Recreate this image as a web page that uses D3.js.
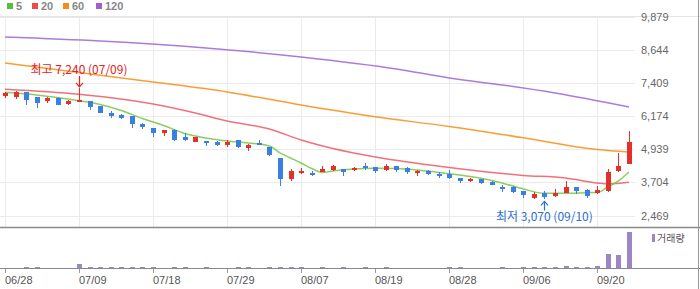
<!DOCTYPE html>
<html>
<head>
<meta charset="utf-8">
<script src="https://cdnjs.cloudflare.com/ajax/libs/d3/7.8.5/d3.min.js"></script>
<style>
  body { margin: 0; background: #fff; }
  svg { display: block; font-family: "Liberation Sans", Arial, sans-serif; }
</style>
</head>
<body>
<div id="chart"></div>
<script>
// trading days, 2024-06-28 .. 2024-09-25
var dates = ['06/28','07/01','07/02','07/03','07/04','07/05','07/08','07/09','07/10','07/11',
  '07/12','07/15','07/16','07/17','07/18','07/19','07/22','07/23','07/24','07/25',
  '07/26','07/29','07/30','07/31','08/01','08/02','08/05','08/06','08/07','08/08',
  '08/09','08/12','08/13','08/14','08/16','08/19','08/20','08/21','08/22','08/23',
  '08/26','08/27','08/28','08/29','08/30','09/02','09/03','09/04','09/05','09/06',
  '09/09','09/10','09/11','09/12','09/13','09/19','09/20','09/23','09/24','09/25'];

var opens = [6951,6914,7090,6902,6727,6865,6652,6727,6764,6577,
  6304,6229,6181,5881,5743,5567,5680,5418,5231,5257,
  5220,5096,5294,4995,5182,5032,4621,3836,4060,4071,
  4086,4172,4210,4172,4322,4273,4172,4322,4247,4060,
  4146,4023,4023,3862,3761,3836,3712,3537,3537,3387,
  3136,3301,3200,3323,3537,3413,3286,3413,4109,4408];
var highs = [7078,7138,7090,6910,6902,6902,6790,7240,6764,6577,
  6379,6267,6200,5930,5743,5680,5690,5545,5418,5257,
  5246,5294,5294,5156,5294,5032,4621,4198,4247,4146,
  4322,4371,4210,4285,4434,4273,4397,4322,4296,4160,
  4184,4109,4172,3862,3873,3836,3761,3611,3574,3387,
  3361,3387,3462,3761,3537,3462,3563,4210,4797,5631];
var lows = [6854,6839,6615,6502,6678,6615,6603,6727,6428,6293,
  6128,6091,5754,5706,5418,5455,5246,5268,5231,5070,
  5081,5032,4995,4883,5110,4696,3585,3761,4012,3959,
  4086,4146,3959,4146,4184,4071,4146,4109,4023,3959,
  3985,3873,3836,3697,3724,3649,3611,3361,3324,3114,
  3090,3070,3163,3323,3263,3114,3286,3361,4109,4408];
var closes = [7052,7101,6802,6689,6854,6615,6764,6790,6540,6330,
  6203,6128,5867,5780,5567,5668,5320,5320,5407,5182,
  5107,5220,5032,5119,5119,4745,3847,4135,4135,3997,
  4198,4322,4109,4236,4236,4135,4322,4184,4109,4146,
  4034,3997,3873,3735,3836,3686,3611,3488,3361,3226,
  3275,3136,3301,3548,3387,3207,3413,4109,4311,5231];
var volumes = [30,35,90,95,30,35,40,430,100,90,
  95,90,100,95,90,40,85,90,40,85,
  35,45,90,85,40,90,110,95,100,40,
  85,40,80,30,90,40,85,35,30,30,
  40,35,90,85,40,30,40,80,40,90,
  100,110,100,200,110,100,190,1430,1270,3600]; // thousand shares

// moving averages: [date, value]
var ma5 = [['06/28',7078],['07/03',6977],['07/09',6760],['07/11',6622],['07/15',6398],
  ['07/17',6098],['07/19',5837],['07/23',5537],['07/25',5369],['07/29',5257],
  ['07/31',5182],['08/02',5070],['08/05',4808],['08/06',4621],['08/07',4434],
  ['08/08',4228],['08/09',4079],['08/12',4135],['08/14',4210],['08/19',4236],
  ['08/21',4228],['08/23',4172],['08/27',4079],['08/29',3985],['09/02',3862],
  ['09/04',3686],['09/06',3462],['09/10',3301],['09/12',3301],['09/19',3323],
  ['09/20',3331],['09/23',3536],['09/24',3761],['09/25',4097]];
var ma20 = [['06/28',7190],['07/09',7003],['07/18',6641],['07/24',6304],['07/29',6005],
  ['08/02',5706],['08/07',5294],['08/12',4976],['08/19',4659],['08/28',4266],
  ['09/06',3967],['09/12',3873],['09/20',3686],['09/23',3649],['09/25',3712]];
var ma60 = [['06/28',8174],['07/09',7819],['07/18',7463],['07/29',7090],['08/07',6603],
  ['08/19',6162],['08/28',5799],['09/06',5377],['09/20',4939],['09/25',4845]];
var ma120 = [['06/28',9146],['07/11',8997],['07/25',8736],['08/07',8398],['08/21',7950],
  ['08/28',7613],['09/04',7351],['09/11',7052],['09/25',6529]];

var yTicks = [2469, 3704, 4939, 6174, 7409, 8644, 9879];
var xTicks = ['06/28','07/09','07/18','07/29','08/07','08/19','08/28','09/06','09/20'];

var maLegend = ['5', '20', '60', '120'];
var maColors = ['#7dc94f', '#f0626a', '#f7941f', '#a56cd6'];
var legendColors = ['#5cbd3c', '#ef4a4a', '#f68b1f', '#a061cf'];

(function(d3){
  var width = 700, height = 289;
  var up = '#e3302a', down = '#3a7fe2';

  var svg = d3.select('#chart').append('svg')
    .attr('width', width)
    .attr('height', height);

  var x = d3.scalePoint().domain(dates).range([5, 629]);
  var y = d3.scaleLinear().domain([2469, 9879]).range([215.5, 17.4]);
  var yv = d3.scaleLinear().domain([0, 4000]).range([268, 228]);
  var px = function(d){ return Math.round(x(d)); };

  // frame + grid
  svg.append('line')
    .attr('x1', 0).attr('x2', width).attr('y1', 16.5).attr('y2', 16.5)
    .attr('stroke', '#e4e4e4');

  svg.append('g').selectAll('line').data(yTicks).enter().append('line')
    .attr('x1', 0).attr('x2', 635)
    .attr('y1', function(d){ return Math.round(y(d)) + 0.5; })
    .attr('y2', function(d){ return Math.round(y(d)) + 0.5; })
    .attr('stroke', '#ebebeb');

  svg.append('g').selectAll('line').data(xTicks).enter().append('line')
    .attr('x1', function(d){ return px(d) + 0.5; })
    .attr('x2', function(d){ return px(d) + 0.5; })
    .attr('y1', 17).attr('y2', 227)
    .attr('stroke', '#ebebeb');

  svg.append('g').selectAll('text').data(yTicks).enter().append('text')
    .attr('x', 641)
    .attr('y', function(d){ return y(d) + 4; })
    .attr('font-size', 11)
    .attr('fill', '#666')
    .text(d3.format(','));

  // moving averages
  var line = d3.line()
    .x(function(d){ return x(d[0]); })
    .y(function(d){ return y(d[1]); })
    .curve(d3.curveMonotoneX);

  [ma120, ma60, ma20, ma5].forEach(function(ma, i){
    svg.append('path')
      .datum(ma)
      .attr('d', line)
      .attr('fill', 'none')
      .attr('stroke', maColors[3 - i])
      .attr('stroke-width', 1.5)
      .attr('stroke-opacity', 0.9);
  });

  // candles
  var idx = d3.range(dates.length);
  var candles = svg.append('g').selectAll('g').data(idx).enter().append('g')
    .attr('fill', function(i){ return closes[i] >= opens[i] ? up : down; })
    .attr('stroke', function(i){ return closes[i] >= opens[i] ? up : down; });

  candles.append('line')
    .attr('x1', function(i){ return px(dates[i]) + 0.5; })
    .attr('x2', function(i){ return px(dates[i]) + 0.5; })
    .attr('y1', function(i){ return Math.round(y(highs[i])); })
    .attr('y2', function(i){ return Math.round(y(lows[i])); });

  candles.append('rect')
    .attr('stroke', 'none')
    .attr('x', function(i){ return px(dates[i]) - 2; })
    .attr('width', 5)
    .attr('y', function(i){ return Math.round(y(Math.max(opens[i], closes[i]))); })
    .attr('height', function(i){
      return Math.max(2, Math.round(y(Math.min(opens[i], closes[i])) - y(Math.max(opens[i], closes[i]))));
    });

  // high / low notes
  var hi = d3.maxIndex(highs), lo = d3.minIndex(lows);
  var fmt = d3.format(',');

  svg.append('text')
    .attr('x', x(dates[hi])).attr('y', y(highs[hi]) - 14)
    .attr('text-anchor', 'middle')
    .attr('font-family', '"Noto Sans CJK KR", sans-serif')
    .attr('font-size', 12)
    .attr('fill', '#e3231f')
    .text('최고 ' + fmt(highs[hi]) + ' (' + dates[hi] + ')');
  svg.append('path')
    .attr('d', 'M' + (px(dates[hi]) + 0.5) + ',' + (y(highs[hi]) - 12) + 'V' + (y(highs[hi]) - 1)
      + 'M' + (px(dates[hi]) - 3) + ',' + (y(highs[hi]) - 5) + 'L' + (px(dates[hi]) + 0.5) + ',' + (y(highs[hi]) - 1)
      + 'L' + (px(dates[hi]) + 4) + ',' + (y(highs[hi]) - 5))
    .attr('fill', 'none').attr('stroke', '#e3231f').attr('stroke-width', 1.2);

  svg.append('text')
    .attr('x', x(dates[lo])).attr('y', y(lows[lo]) + 22)
    .attr('text-anchor', 'middle')
    .attr('font-family', '"Noto Sans CJK KR", sans-serif')
    .attr('font-size', 12)
    .attr('fill', '#2e6fce')
    .text('최저 ' + fmt(lows[lo]) + ' (' + dates[lo] + ')');
  svg.append('path')
    .attr('d', 'M' + (px(dates[lo]) + 0.5) + ',' + (y(lows[lo]) + 11) + 'V' + (y(lows[lo]) + 2)
      + 'M' + (px(dates[lo]) - 3) + ',' + (y(lows[lo]) + 6) + 'L' + (px(dates[lo]) + 0.5) + ',' + (y(lows[lo]) + 2)
      + 'L' + (px(dates[lo]) + 4) + ',' + (y(lows[lo]) + 6))
    .attr('fill', 'none').attr('stroke', '#2e6fce').attr('stroke-width', 1.2);

  // volume panel
  svg.append('g').selectAll('rect').data(idx).enter().append('rect')
    .attr('x', function(i){ return px(dates[i]) - 2; })
    .attr('width', 5)
    .attr('y', function(i){ return Math.round(yv(volumes[i])); })
    .attr('height', function(i){ return 268 - Math.round(yv(volumes[i])); })
    .attr('fill', '#9b87c7');

  svg.append('line')
    .attr('x1', 0).attr('x2', width).attr('y1', 227.5).attr('y2', 227.5)
    .attr('stroke', '#8a8a8a').attr('stroke-width', 1.5);
  svg.append('line')
    .attr('x1', 0).attr('x2', width).attr('y1', 268.5).attr('y2', 268.5)
    .attr('stroke', '#8a8a8a');
  svg.append('line')
    .attr('x1', 698.5).attr('x2', 698.5).attr('y1', 0).attr('y2', height)
    .attr('stroke', '#999');

  svg.append('rect')
    .attr('x', 652).attr('y', 234).attr('width', 3).attr('height', 8)
    .attr('fill', '#9b87c7');
  svg.append('text')
    .attr('x', 657).attr('y', 242)
    .attr('font-family', '"Noto Sans CJK KR", sans-serif')
    .attr('font-size', 10)
    .attr('fill', '#555')
    .text('거래량');

  // x axis
  var xa = svg.append('g').selectAll('g').data(xTicks).enter().append('g');
  xa.append('line')
    .attr('x1', function(d){ return px(d) + 0.5; })
    .attr('x2', function(d){ return px(d) + 0.5; })
    .attr('y1', 269).attr('y2', 273)
    .attr('stroke', '#999');
  xa.append('text')
    .attr('x', function(d){ return px(d); })
    .attr('y', 284)
    .attr('font-size', 11)
    .attr('fill', '#555')
    .text(function(d){ return d; });

  // legend
  var lg = svg.append('g').selectAll('g').data(maLegend).enter().append('g')
    .attr('transform', function(d, i){ return 'translate(' + [7, 32, 63, 96][i] + ',0)'; });
  lg.append('rect')
    .attr('y', 3).attr('width', 6).attr('height', 6)
    .attr('fill', function(d, i){ return legendColors[i]; });
  lg.append('text')
    .attr('x', 9).attr('y', 10)
    .attr('font-size', 11)
    .attr('font-weight', 'bold')
    .attr('fill', '#888')
    .text(function(d){ return d; });
})(d3);
</script>
</body>
</html>
